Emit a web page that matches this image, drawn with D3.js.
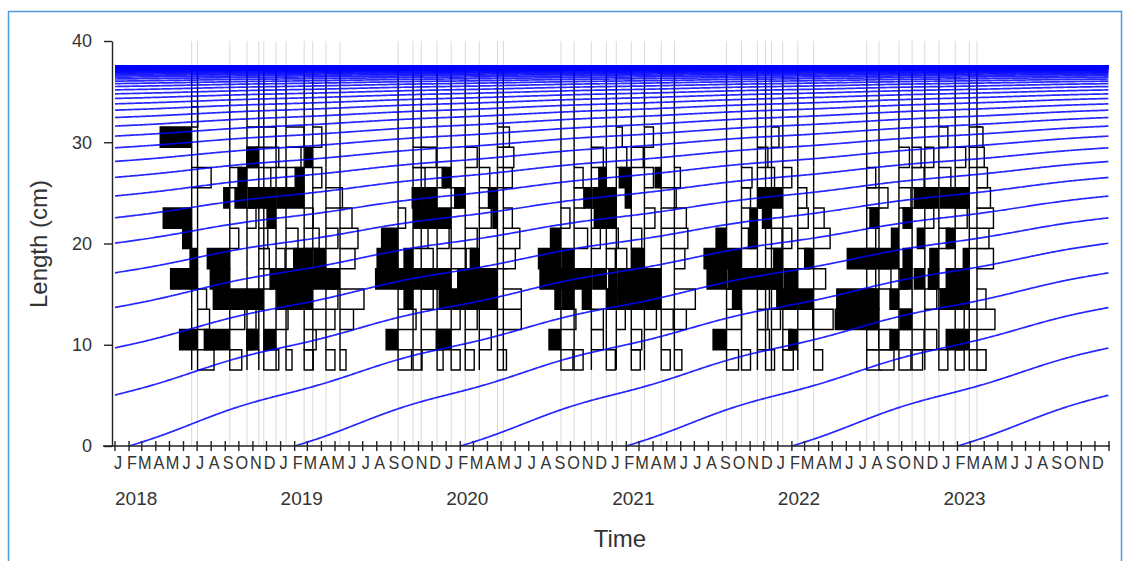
<!DOCTYPE html>
<html lang="en">
<head>
<meta charset="utf-8">
<script src="https://d3js.org/d3.v7.min.js"></script>
<title>Length frequency with growth curves</title>
<style>
  body { margin: 0; background: #fff; }
  svg { display: block; font-family: "Liberation Sans", Arial, sans-serif; }
</style>
</head>
<body>
<svg width="1131" height="561"></svg>
<script>
// sample dates (one histogram per date)
const sampleDates = [
  "2018-06-19","2018-07-02","2018-09-11","2018-10-19","2018-11-14","2018-11-25",
  "2018-12-22","2019-01-13","2019-02-22","2019-03-13","2019-04-11","2019-05-12",
  "2019-09-17","2019-10-20","2019-11-07","2019-12-12","2020-01-12","2020-02-12",
  "2020-03-14","2020-04-23","2020-05-06",
  "2020-09-10","2020-10-09","2020-11-16","2020-12-19","2021-01-10","2021-02-12",
  "2021-03-13","2021-04-19","2021-05-18",
  "2021-09-10","2021-10-13","2021-11-17","2021-12-05","2021-12-18","2022-01-12",
  "2022-02-14","2022-03-21",
  "2022-07-16","2022-08-12","2022-09-25","2022-10-24","2022-11-21","2022-12-22",
  "2023-01-27","2023-02-27","2023-03-16"
]

// length classes (mid points, cm)
const binMids = [8.5, 10.5, 12.5, 14.5, 16.5, 18.5, 20.5, 22.5, 24.5, 26.5, 28.5, 30.5, 32.5, 34.5, 36.5]
const binWidth = 2

// restructured scores per sample (rows) and length class (columns)
const scores = [
  [0,0,0,0,0,0,.3,.95,0,-.65,0,1.05,-.2,0,0],
  [-.55,.6,-.4,-.3,.9,.25,0,0,0,0,0,0,0,0,0],
  [-.4,.85,-.5,.55,.65,.75,-.3,0,.2,-.4,0,0,0,0,0],
  [0,-.2,-.3,.55,0,0,0,-.3,.4,.3,-.35,-.6,0,0,0],
  [0,.4,0,.4,0,-.35,-.3,0,.35,-.4,.4,0,0,0,0],
  [-.5,0,0,.15,-.3,0,0,-.3,.15,0,-.5,-.4,0,0,0],
  [0,.4,-.4,-.3,.2,-.3,0,.3,.4,-.35,0,0,0,0,0],
  [-.2,0,0,.3,.35,-.3,-.4,0,.3,0,-.5,-.6,0,0,0],
  [-.3,-.4,0,.6,.6,.35,-.5,-.3,.6,.3,0,0,0,0,0],
  [0,0,-.5,.3,.3,.3,0,0,0,-.3,.25,-.3,0,0,0],
  [-.3,0,-.3,-.4,.45,.4,-.4,0,-.55,0,0,0,0,0,0],
  [-.2,0,-.45,-.8,.45,-.5,-.6,-.4,0,0,0,0,0,0,0],

  [-.45,.4,-.6,-.3,.75,.7,.55,-.25,0,0,0,0,0,0,0],
  [-.3,0,0,.3,.5,.3,-.5,0,0,-.4,-.4,0,0,0,0],
  [0,-.5,0,-.4,.3,-.4,0,.25,.3,0,-.5,0,0,0,0],
  [-.2,0,-.5,-.3,.5,0,-.4,.55,.5,-.3,0,0,0,0,0],
  [-.3,.45,-.3,.4,.45,-.5,0,.45,-.3,.3,0,0,0,0,0],
  [-.3,0,-.4,.45,.25,0,-.4,0,.35,0,-.4,0,0,0,0],
  [0,-.4,0,.45,.45,.3,0,-.4,0,-.35,0,0,0,0,0],
  [-.3,0,-.5,.6,.6,-.3,0,.15,.3,-.3,0,-.4,0,0,0],
  [0,0,-.6,-.6,0,-.4,-.55,-.3,0,-.3,-.35,0,0,0,0],

  [-.4,.4,-.5,.2,.7,.75,.35,-.3,0,0,0,0,0,0,0],
  [-.3,0,0,.4,.45,.4,-.45,0,-.35,-.3,0,0,0,0,0],
  [0,-.4,-.4,.3,.55,0,-.3,-.3,.25,0,-.4,0,0,0,0],
  [-.3,0,0,-.4,.45,-.3,-.4,.4,.45,.25,0,0,0,0,0],
  [0,0,-.3,.3,.25,-.35,0,.3,.3,0,-.35,-.2,0,0,0],
  [-.3,-.35,0,.45,.45,0,-.35,0,.2,.4,-.4,0,0,0,0],
  [0,0,-.4,.4,.4,.4,0,-.35,0,-.3,0,-.3,0,0,0],
  [-.3,0,-.4,.55,.55,0,-.5,0,-.5,.2,0,0,0,0,0],
  [-.25,0,-.4,-.7,0,-.35,-.45,-.4,0,-.2,0,0,0,0,0],

  [-.4,.45,-.5,-.3,.65,.75,.35,0,0,0,0,0,0,0,0],
  [-.3,0,0,.3,.45,.5,-.45,0,-.3,-.35,0,0,0,0,0],
  [0,-.4,-.35,-.4,.5,0,.3,.25,-.3,0,-.35,0,0,0,0],
  [-.3,0,0,0,.25,-.3,0,0,.25,-.3,0,0,0,0,0],
  [0,0,-.3,-.35,.35,0,-.35,.3,.4,0,0,-.25,0,0,0],
  [-.35,-.3,0,.2,.35,.3,-.3,0,.35,-.3,0,0,0,0,0],
  [0,.3,-.5,.5,.45,-.4,0,-.35,-.3,0,0,0,0,0,0],
  [-.3,0,-.65,.55,-.4,.3,-.55,-.35,0,0,0,0,0,0,0],

  [-.5,-.4,1.05,1.0,-.3,.65,-.3,0,-.45,-.3,0,0,0,0,0],
  [-.5,-.4,.4,.4,-.4,.45,0,.3,-.3,0,0,0,0,0,0],
  [-.4,.3,-.4,.3,-.3,.65,.25,0,-.4,0,-.35,0,0,0,0],
  [-.35,-.4,.4,0,.4,.3,0,.3,-.35,-.4,-.3,0,0,0,0],
  [0,-.4,0,-.4,.35,0,.25,-.3,.35,0,-.3,0,0,0,0],
  [-.3,0,0,-.3,.35,.3,-.35,0,.45,-.4,0,-.3,0,0,0],
  [-.3,.3,-.3,.5,.3,0,.3,-.4,.5,0,-.35,0,0,0,0],
  [-.55,.45,-.3,.45,.45,.2,-.55,0,.45,0,-.5,-.4,0,0,0],
  [-.3,0,-.6,-.3,0,-.55,-.4,-.55,-.45,-.35,0,-.2,0,0,0]
]

const yTicks = [0, 10, 20, 30, 40]
const years = [2018, 2019, 2020, 2021, 2022, 2023]
const monthLetters = ["J","F","M","A","M","J","J","A","S","O","N","D"]

// seasonal VBGF parameters of the fitted curves
const Linf = 37.5, K = 0.155, tAnchor = 0.085, C = 0.18, ts = 0.5
const firstCohort = 1940, lastCohort = 2023

const svg = d3.select("svg")
const dayMs = 86400000
const histDays = 66   // one score unit drawn as this many days wide

// picture frame
svg.append("rect")
    .attr("x", 8.5).attr("y", 11.5)
    .attr("width", 1113).attr("height", 600)
    .attr("fill", "none").attr("stroke", "#4c9ce0").attr("stroke-width", 1.5)

const parse = d3.utcParse("%Y-%m-%d")
const dates = sampleDates.map(parse)

const x = d3.scaleUtc()
    .domain([new Date(Date.UTC(2018, 0, 1)), new Date(Date.UTC(2024, 0, 1))])
    .range([115, 1109])
const y = d3.scaleLinear().domain([0, 40]).range([446, 41])

// grey sample lines
svg.append("g").selectAll("line").data(dates).join("line")
    .attr("x1", d => x(d)).attr("x2", d => x(d))
    .attr("y1", y(0)).attr("y2", y(40))
    .attr("stroke", "#dadada").attr("stroke-width", 1)

// histograms: positive scores black to the left, negative white to the right
const hist = svg.append("g")
dates.forEach((d, i) => {
    hist.append("g").selectAll("path").data(scores[i]).join("path")
        .attr("d", (v, j) => {
            let x0 = x(d)
            let x1 = x(new Date(+d - v * histDays * dayMs))
            let y0 = y(binMids[j] - binWidth / 2), y1 = y(binMids[j] + binWidth / 2)
            return "M" + x0 + "," + y0 + "V" + y1 + "H" + x1 + "V" + y0 + "Z"
        })
        .attr("fill", v => v > 0 ? "#000" : "#fff")
        .attr("stroke", "#000").attr("stroke-width", 1.4)
})

// growth curves
const S = t => C * K / (2 * Math.PI) * Math.sin(2 * Math.PI * (t - ts))
const vb = (t, t0) => Linf * (1 - Math.exp(-K * (t - t0) - S(t) + S(t0)))
const toDate = t => new Date(Date.UTC(2018, 0, 1) + (t - 2018) * 365.25 * dayMs)

const curveLine = d3.line()
    .x(p => x(toDate(p[0])))
    .y(p => y(p[1]))

const curves = svg.append("g")
for (let yr = firstCohort; yr <= lastCohort; yr++) {
    let t0 = yr + tAnchor
    let start = Math.max(t0, 2018)
    let pts = d3.range(start, 2023.995, 0.01).map(t => [t, vb(t, t0)])
    pts.push([2023.995, vb(2023.995, t0)])
    curves.append("path")
        .attr("d", curveLine(pts))
        .attr("fill", "none")
        .attr("stroke", "#0000ff")
        .attr("stroke-width", 1.7)
        .attr("stroke-opacity", 0.85)
}

// y axis
let yAxis = svg.append("g")
    .attr("transform", "translate(112,0)")
    .call(d3.axisLeft(y).tickValues(yTicks).tickSize(8).tickPadding(12).tickSizeOuter(0))
yAxis.select(".domain").attr("stroke", "#222").attr("stroke-width", 1.4)
yAxis.selectAll(".tick line").attr("stroke", "#222").attr("stroke-width", 1.4)
yAxis.selectAll("text").attr("font-size", "18px").attr("fill", "#333")
    .attr("font-family", "Liberation Sans, Arial, sans-serif")

// x axis with month ticks
const months = d3.utcMonth.range(new Date(Date.UTC(2018, 0, 1)), new Date(Date.UTC(2024, 0, 2)))
let xAxis = svg.append("g")
xAxis.append("line")
    .attr("x1", 103).attr("x2", 1110).attr("y1", 446).attr("y2", 446)
    .attr("stroke", "#222").attr("stroke-width", 1.4)
xAxis.selectAll(".mtick").data(months).join("line")
    .attr("class", "mtick")
    .attr("x1", d => x(d)).attr("x2", d => x(d))
    .attr("y1", 441).attr("y2", 451)
    .attr("stroke", "#222").attr("stroke-width", 1.4)
xAxis.selectAll(".mlab").data(months.slice(0, 72)).join("text")
    .attr("class", "mlab")
    .attr("transform", d => "translate(" + (x(d) + 3) + ",469) scale(0.88,1)")
    .attr("text-anchor", "middle")
    .attr("font-size", "18.5px").attr("fill", "#333")
    .text(d => monthLetters[d.getUTCMonth()])
xAxis.selectAll(".ylab").data(years).join("text")
    .attr("class", "ylab")
    .attr("x", d => x(new Date(Date.UTC(d, 0, 1))))
    .attr("y", 505)
    .attr("font-size", "19px").attr("fill", "#333")
    .text(d => d)

// axis titles
svg.append("text")
    .attr("x", 620).attr("y", 547)
    .attr("text-anchor", "middle")
    .attr("font-size", "24px").attr("fill", "#333")
    .text("Time")
svg.append("text")
    .attr("transform", "translate(47,244) rotate(-90)")
    .attr("text-anchor", "middle")
    .attr("font-size", "24px").attr("fill", "#333")
    .text("Length (cm)")
</script>
</body>
</html>
